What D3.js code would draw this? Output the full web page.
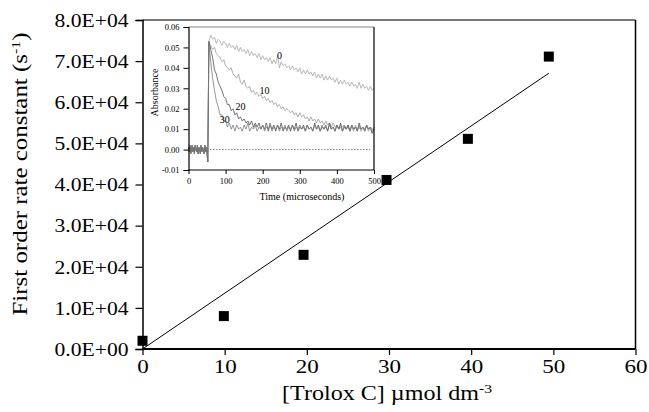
<!DOCTYPE html>
<html><head><meta charset="utf-8">
<script src="https://cdn.jsdelivr.net/npm/d3@7"></script>
<style>html,body{margin:0;padding:0;background:#fff;} svg{display:block;} text{font-family:"Liberation Serif","Times New Roman",serif;fill:#000;}</style>
</head><body>
<svg id="c" width="649" height="412"></svg>
<script>
// ---------- main chart data ----------
const troloxConc = [0, 9.9, 19.6, 29.7, 39.6, 49.45];
const rateConst = [2000, 8000, 22900, 41100, 51100, 71100];
const fitRange = [0, 49.45];
const fitSlope = 1356;
const fitIntercept = 0;
const xTicks = [0, 10, 20, 30, 40, 50, 60];
const yTicks = [0, 10000, 20000, 30000, 40000, 50000, 60000, 70000, 80000];
const yTickLabels = ["0.0E+00","1.0E+04","2.0E+04","3.0E+04","4.0E+04","5.0E+04","6.0E+04","7.0E+04","8.0E+04"];

// ---------- inset data ----------
const insetXTicks = [0, 100, 200, 300, 400, 500];
const insetYTicks = [-0.01, 0, 0.01, 0.02, 0.03, 0.04, 0.05, 0.06];
const insetYTickLabels = ["-0.01","0.00","0.01","0.02","0.03","0.04","0.05","0.06"];
const baseTime = [0,2,4,6,8,10,12,14,16,18,20,22,24,26,28,30,32,34,36,38,40,42,44,46,48,50,52];
const baseAbs = [0.001,-0.001,0.002,-0.002,0.000,0.002,-0.001,0.001,-0.002,0.002,0.000,-0.001,0.002,-0.002,0.001,0.000,-0.002,0.002,-0.001,0.001,0.000,-0.002,0.002,-0.001,0.001,-0.002,-0.006];
const decayTime = [55,60,65,70,75,80,85,90,95,100,105,110,115,120,125,130,135,140,145,150,155,160,165,170,175,180,185,190,195,200,205,210,215,220,225,230,235,240,245,250,255,260,265,270,275,280,285,290,295,300,305,310,315,320,325,330,335,340,345,350,355,360,365,370,375,380,385,390,395,400,405,410,415,420,425,430,435,440,445,450,455,460,465,470,475,480,485,490,495,500];
const trace0 = [0.053,0.056,0.054,0.055,0.052,0.054,0.053,0.051,0.053,0.052,0.050,0.052,0.050,0.051,0.049,0.051,0.048,0.050,0.048,0.049,0.047,0.049,0.046,0.048,0.046,0.047,0.045,0.047,0.044,0.046,0.044,0.045,0.043,0.045,0.042,0.044,0.042,0.046,0.040,0.043,0.041,0.042,0.040,0.041,0.039,0.041,0.039,0.040,0.038,0.040,0.037,0.039,0.037,0.039,0.037,0.038,0.036,0.038,0.035,0.037,0.035,0.037,0.034,0.036,0.034,0.036,0.034,0.035,0.033,0.035,0.032,0.034,0.032,0.034,0.032,0.033,0.031,0.033,0.031,0.032,0.030,0.033,0.030,0.032,0.030,0.031,0.029,0.031,0.029,0.030];
const trace10 = [0.052,0.051,0.049,0.050,0.047,0.046,0.045,0.043,0.044,0.041,0.040,0.039,0.040,0.037,0.036,0.035,0.037,0.033,0.032,0.034,0.031,0.030,0.031,0.028,0.029,0.027,0.028,0.026,0.027,0.025,0.026,0.024,0.025,0.023,0.024,0.022,0.023,0.021,0.022,0.020,0.021,0.019,0.020,0.019,0.018,0.019,0.017,0.018,0.016,0.018,0.016,0.017,0.015,0.016,0.014,0.016,0.014,0.015,0.013,0.015,0.013,0.014,0.012,0.014,0.012,0.013,0.011,0.013,0.011,0.012,0.010,0.012,0.011,0.012,0.010,0.012,0.010,0.011,0.009,0.012,0.010,0.011,0.009,0.011,0.010,0.012,0.009,0.011,0.010,0.010];
const trace20 = [0.053,0.049,0.045,0.039,0.037,0.033,0.031,0.029,0.026,0.025,0.022,0.022,0.019,0.020,0.017,0.018,0.015,0.016,0.014,0.015,0.013,0.014,0.012,0.014,0.011,0.013,0.011,0.013,0.010,0.012,0.010,0.013,0.009,0.012,0.010,0.012,0.009,0.012,0.010,0.013,0.009,0.011,0.010,0.012,0.009,0.012,0.010,0.013,0.009,0.011,0.010,0.012,0.009,0.012,0.010,0.011,0.009,0.013,0.010,0.012,0.009,0.011,0.010,0.012,0.009,0.013,0.010,0.011,0.009,0.012,0.010,0.013,0.009,0.011,0.010,0.012,0.009,0.012,0.010,0.011,0.009,0.013,0.010,0.011,0.009,0.012,0.010,0.011,0.008,0.010];
const trace30 = [0.052,0.043,0.035,0.029,0.024,0.021,0.017,0.017,0.014,0.014,0.011,0.013,0.010,0.012,0.009,0.012,0.010,0.011,0.009,0.012,0.010,0.013,0.009,0.011,0.010,0.012,0.009,0.011,0.010,0.012,0.009,0.011,0.010,0.013,0.009,0.011,0.010,0.012,0.009,0.011,0.010,0.012,0.009,0.011,0.010,0.012,0.009,0.011,0.010,0.012,0.010,0.011,0.009,0.012,0.010,0.011,0.009,0.012,0.010,0.011,0.009,0.012,0.010,0.011,0.009,0.012,0.010,0.011,0.009,0.012,0.010,0.011,0.009,0.012,0.010,0.011,0.009,0.012,0.010,0.011,0.009,0.012,0.010,0.011,0.009,0.012,0.010,0.011,0.008,0.011];
const traceNames = ["0", "10", "20", "30"];
const traceColors = ["#aaaaaa", "#9a9a9a", "#505050", "#7a7a7a"];
const traceLabelPos = [[245, 0.046], [205, 0.029], [140, 0.021], [98, 0.0145]];
const zeroLine = [58, 490];

const svg = d3.select("#c");

// ---------- main plot ----------
const x = d3.scaleLinear().domain([0, 60]).range([142.5, 635.5]);
const y = d3.scaleLinear().domain([0, 80000]).range([349, 20]);

svg.append("line").attr("x1", x(0)).attr("x2", x(60)).attr("y1", y(80000)).attr("y2", y(80000))
  .attr("stroke", "#777").attr("stroke-width", 2);
svg.append("line").attr("x1", x(60)).attr("x2", x(60)).attr("y1", y(80000)).attr("y2", y(0))
  .attr("stroke", "#000").attr("stroke-width", 1.5);

const yAxis = svg.append("g").attr("transform", `translate(${x(0)},0)`)
  .call(d3.axisLeft(y).tickValues(yTicks).tickSize(7).tickPadding(7)
    .tickFormat((d, i) => yTickLabels[i]));
yAxis.select(".domain").attr("stroke-width", 1.5);
yAxis.selectAll(".tick line").attr("stroke-width", 1.2);
yAxis.selectAll("text").attr("font-size", 19.5).attr("font-family", "Liberation Serif")
  .attr("textLength", 74).attr("lengthAdjust", "spacingAndGlyphs");

const xAxis = svg.append("g").attr("transform", `translate(0,${y(0)})`)
  .call(d3.axisBottom(x).tickValues(xTicks).tickSize(6).tickPadding(5).tickFormat(d3.format("d")));
xAxis.select(".domain").attr("stroke-width", 2).attr("d", `M${x(0)},0H${x(60)}`);
xAxis.selectAll(".tick line").attr("stroke-width", 1.2);
xAxis.selectAll("text").attr("font-size", 19).attr("font-family", "Liberation Serif")
  .attr("textLength", d => String(d).length * 11.5).attr("lengthAdjust", "spacingAndGlyphs");

svg.append("line")
  .attr("x1", x(fitRange[0])).attr("y1", y(fitIntercept + fitSlope * fitRange[0]))
  .attr("x2", x(fitRange[1])).attr("y2", y(fitIntercept + fitSlope * fitRange[1]))
  .attr("stroke", "#000").attr("stroke-width", 1);

// ---------- inset ----------
const ix = d3.scaleLinear().domain([0, 500]).range([188.5, 374]);
const iy = d3.scaleLinear().domain([-0.01, 0.06]).range([170, 27]);
const inset = svg.append("g");
inset.append("rect").attr("x", ix(0)).attr("y", iy(0.06)).attr("width", ix(500) - ix(0)).attr("height", iy(-0.01) - iy(0.06))
  .attr("fill", "#fff");

inset.append("line").attr("x1", ix(zeroLine[0])).attr("x2", ix(zeroLine[1])).attr("y1", iy(0)).attr("y2", iy(0))
  .attr("stroke", "#666").attr("stroke-width", 0.8).attr("stroke-dasharray", "1.5,1.5");

const traces = [trace0, trace10, trace20, trace30];
const lineGen = d3.line().x(d => ix(d[0])).y(d => iy(d[1]));
traces.forEach((tr, k) => {
  const pts = baseTime.map((t, i) => [t, baseAbs[i]]).concat(decayTime.map((t, i) => [t, tr[i]]));
  inset.append("path").attr("d", lineGen(pts)).attr("fill", "none")
    .attr("stroke", traceColors[k]).attr("stroke-width", 0.8);
});

traceNames.forEach((n, k) => {
  inset.append("text").attr("x", ix(traceLabelPos[k][0])).attr("y", iy(traceLabelPos[k][1]))
    .attr("text-anchor", "middle").attr("dy", "0.35em").attr("font-size", 10).text(n);
});

inset.append("line").attr("x1", ix(0)).attr("x2", ix(500)).attr("y1", iy(0.06)).attr("y2", iy(0.06))
  .attr("stroke", "#888").attr("stroke-width", 1.2);
inset.append("line").attr("x1", ix(500)).attr("x2", ix(500)).attr("y1", iy(0.06)).attr("y2", iy(-0.01))
  .attr("stroke", "#000").attr("stroke-width", 1.2);

const iyAxis = inset.append("g").attr("transform", `translate(${ix(0)},0)`)
  .call(d3.axisLeft(iy).tickValues(insetYTicks).tickSize(5).tickPadding(4)
    .tickFormat((d, i) => insetYTickLabels[i]));
iyAxis.selectAll("text").attr("font-size", 8.5).attr("font-family", "Liberation Serif");
iyAxis.select(".domain").attr("stroke-width", 1.2);

const ixAxis = inset.append("g").attr("transform", `translate(0,${iy(-0.01)})`)
  .call(d3.axisBottom(ix).tickValues(insetXTicks).tickSize(4).tickPadding(4).tickFormat(d3.format("d")));
ixAxis.selectAll("text").attr("font-size", 8.5).attr("font-family", "Liberation Serif");
ixAxis.select(".domain").attr("stroke-width", 1.2).attr("d", `M${ix(0)},0H${ix(500)}`);

inset.append("text").attr("x", 302).attr("y", 200).attr("text-anchor", "middle")
  .attr("font-size", 10).text("Time (microseconds)");
inset.append("text").attr("transform", "translate(157.5,92.5) rotate(-90)").attr("text-anchor", "middle")
  .attr("font-size", 10).text("Absorbance");

// ---------- markers ----------
svg.append("g").selectAll("rect").data(troloxConc).join("rect")
  .attr("x", (d) => x(d) - 5).attr("y", (d, i) => y(rateConst[i]) - 5)
  .attr("width", 10).attr("height", 10).attr("fill", "#000");

// ---------- titles ----------
const xt = svg.append("text").attr("x", 387).attr("y", 400).attr("text-anchor", "middle").attr("font-size", 20)
  .attr("textLength", 210).attr("lengthAdjust", "spacingAndGlyphs");
xt.append("tspan").text("[Trolox C] \u00b5mol dm");
xt.append("tspan").attr("baseline-shift", "super").attr("font-size", 13).text("-3");

const yt = svg.append("text").attr("transform", "translate(27,174) rotate(-90)").attr("text-anchor", "middle").attr("font-size", 20.5)
  .attr("textLength", 283).attr("lengthAdjust", "spacingAndGlyphs");
yt.append("tspan").text("First order rate constant (s");
yt.append("tspan").attr("baseline-shift", "super").attr("font-size", 13).text("-1");
yt.append("tspan").text(")");
</script>
</body></html>
